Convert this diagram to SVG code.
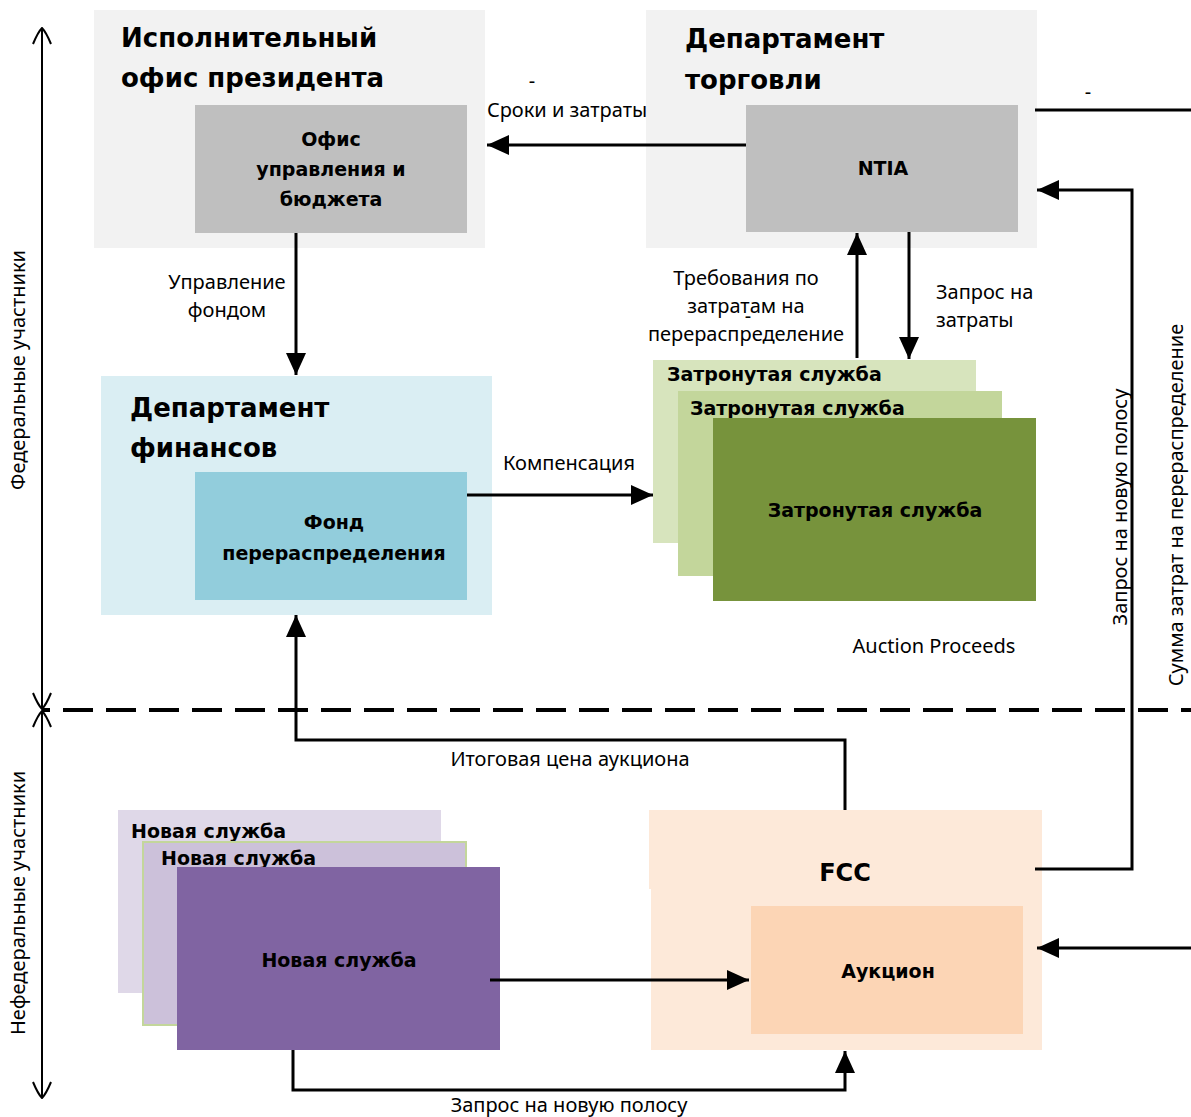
<svg xmlns="http://www.w3.org/2000/svg" width="1191" height="1117" viewBox="0 0 1191 1117">
<defs>
<style>
.t{font-family:"Noto Sans","DejaVu Sans",sans-serif;font-size:20px;fill:#000}
.b{font-family:"DejaVu Sans","Noto Sans",sans-serif;font-weight:bold;fill:#000}
.h{font-size:26px}
.m{font-size:19px}
.ln{stroke:#000;stroke-width:3;fill:none}
.ax{stroke:#000;stroke-width:2;fill:none}
</style>
<marker id="v" viewBox="0 0 20 20" refX="19" refY="10" markerWidth="20" markerHeight="20" markerUnits="userSpaceOnUse" orient="auto-start-reverse">
<path d="M3,1 Q15,6 19,10 Q15,14 3,19" stroke="#000" stroke-width="2" fill="none"/>
</marker>
<marker id="ah" viewBox="0 0 22 20" refX="22" refY="10" markerWidth="22" markerHeight="20" markerUnits="userSpaceOnUse" orient="auto">
<path d="M0,0 L22,10 L0,20 Z" fill="#000"/>
</marker>
</defs>

<g id="axis-labels">
<text class="t" transform="translate(25,370) rotate(-90)" text-anchor="middle">Федеральные участники</text>
<text class="t" transform="translate(25,903) rotate(-90)" text-anchor="middle">Нефедеральные участники</text>
</g>

<g id="exec-office">
<rect x="94" y="10" width="391" height="238" fill="#f2f2f2"/>
<text class="b h" x="121" y="47">Исполнительный</text>
<text class="b h" x="121" y="87">офис президента</text>
</g>
<g id="omb">
<rect x="195" y="105" width="272" height="128" fill="#bfbfbf"/>
<text class="b m" x="331" y="146" text-anchor="middle">Офис</text>
<text class="b m" x="331" y="176" text-anchor="middle">управления и</text>
<text class="b m" x="331" y="206" text-anchor="middle">бюджета</text>
</g>

<g id="commerce">
<rect x="646" y="10" width="391" height="238" fill="#f2f2f2"/>
<text class="b h" x="685" y="48">Департамент</text>
<text class="b h" x="685" y="89">торговли</text>
</g>
<g id="ntia">
<rect x="746" y="105" width="272" height="127" fill="#bfbfbf"/>
<text class="b m" x="883" y="175" text-anchor="middle">NTIA</text>
</g>

<g id="treasury">
<rect x="101" y="376" width="391" height="239" fill="#daeef3"/>
<text class="b h" x="130" y="417">Департамент</text>
<text class="b h" x="130" y="457">финансов</text>
</g>
<g id="fund">
<rect x="195" y="472" width="272" height="128" fill="#92cddc"/>
<text class="b m" x="334" y="529" text-anchor="middle">Фонд</text>
<text class="b m" x="334" y="560" text-anchor="middle">перераспределения</text>
</g>

<g id="affected-services">
<rect x="653" y="360" width="323" height="183" fill="#d7e4bd"/>
<text class="b m" x="667" y="381">Затронутая служба</text>
<rect x="678" y="391" width="324" height="185" fill="#c3d69b"/>
<text class="b m" x="690" y="415">Затронутая служба</text>
<rect x="713" y="418" width="323" height="183" fill="#77933c"/>
<text class="b m" x="875" y="517" text-anchor="middle">Затронутая служба</text>
</g>

<g id="new-services">
<rect x="118" y="810" width="323" height="183" fill="#dfd8e8"/>
<text class="b m" x="131" y="838">Новая служба</text>
<rect x="143" y="842" width="323" height="183" fill="#ccc1da" stroke="#c3d69b" stroke-width="2"/>
<text class="b m" x="161" y="865">Новая служба</text>
<rect x="177" y="867" width="323" height="183" fill="#8064a2"/>
<text class="b m" x="339" y="967" text-anchor="middle">Новая служба</text>
</g>

<g id="fcc">
<path d="M649,810 H1042 V1050 H651 V889 H649 Z" fill="#fde9d9"/>
<text class="b" font-size="24" x="845" y="881" text-anchor="middle">FCC</text>
</g>
<g id="auction">
<rect x="751" y="906" width="272" height="128" fill="#fcd5b5"/>
<text class="b m" x="888" y="978" text-anchor="middle">Аукцион</text>
</g>

<g id="connectors">
<line class="ax" x1="42" y1="28" x2="42" y2="709" marker-start="url(#v)" marker-end="url(#v)"/>
<line class="ax" x1="42" y1="711" x2="42" y2="1098" marker-start="url(#v)" marker-end="url(#v)"/>
<line x1="42" y1="710" x2="1191" y2="710" stroke="#000" stroke-width="4" stroke-dasharray="30 13" stroke-dashoffset="22"/>

<line class="ln" x1="746" y1="145" x2="487" y2="145" marker-end="url(#ah)"/>
<line class="ln" x1="296" y1="233" x2="296" y2="375" marker-end="url(#ah)"/>
<line class="ln" x1="467" y1="495" x2="653" y2="495" marker-end="url(#ah)"/>
<line class="ln" x1="857" y1="358" x2="857" y2="233" marker-end="url(#ah)"/>
<line class="ln" x1="909" y1="232" x2="909" y2="359" marker-end="url(#ah)"/>
<line class="ln" x1="1035" y1="110" x2="1191" y2="110"/>
<polyline class="ln" points="1035,869 1132,869 1132,190 1037,190" marker-end="url(#ah)"/>
<line class="ln" x1="1191" y1="948" x2="1037" y2="948" marker-end="url(#ah)"/>
<polyline class="ln" points="845,810 845,740 296,740 296,615" marker-end="url(#ah)"/>
<line class="ln" x1="490" y1="980" x2="749" y2="980" marker-end="url(#ah)"/>
<polyline class="ln" points="293,1050 293,1090 845,1090 845,1051" marker-end="url(#ah)"/>
</g>

<g id="labels">
<text class="t" x="532" y="88" text-anchor="middle">-</text>
<text class="t" x="567" y="117" text-anchor="middle">Сроки и затраты</text>
<text class="t" x="1088" y="99" text-anchor="middle">-</text>
<text class="t" x="227" y="289" text-anchor="middle">Управление</text>
<text class="t" x="227" y="317" text-anchor="middle">фондом</text>
<text class="t" x="746" y="285" text-anchor="middle">Требования по</text>
<text class="t" x="746" y="313" text-anchor="middle">затратам на</text>
<text class="t" x="748" y="323" text-anchor="middle">-</text>
<text class="t" x="746" y="341" text-anchor="middle">перераспределение</text>
<text class="t" x="936" y="299">Запрос на</text>
<text class="t" x="936" y="327">затраты</text>
<text class="t" x="569" y="470" text-anchor="middle">Компенсация</text>
<text class="t" x="934" y="653" text-anchor="middle">Auction Proceeds</text>
<text class="t" x="570" y="766" text-anchor="middle">Итоговая цена аукциона</text>
<text class="t" x="569" y="1112" text-anchor="middle">Запрос на новую полосу</text>
<text class="t" transform="translate(1127,507) rotate(-90)" text-anchor="middle">Запрос на новую полосу</text>
<text class="t" transform="translate(1183,505) rotate(-90)" text-anchor="middle">Сумма затрат на перераспределение</text>
</g>
</svg>
